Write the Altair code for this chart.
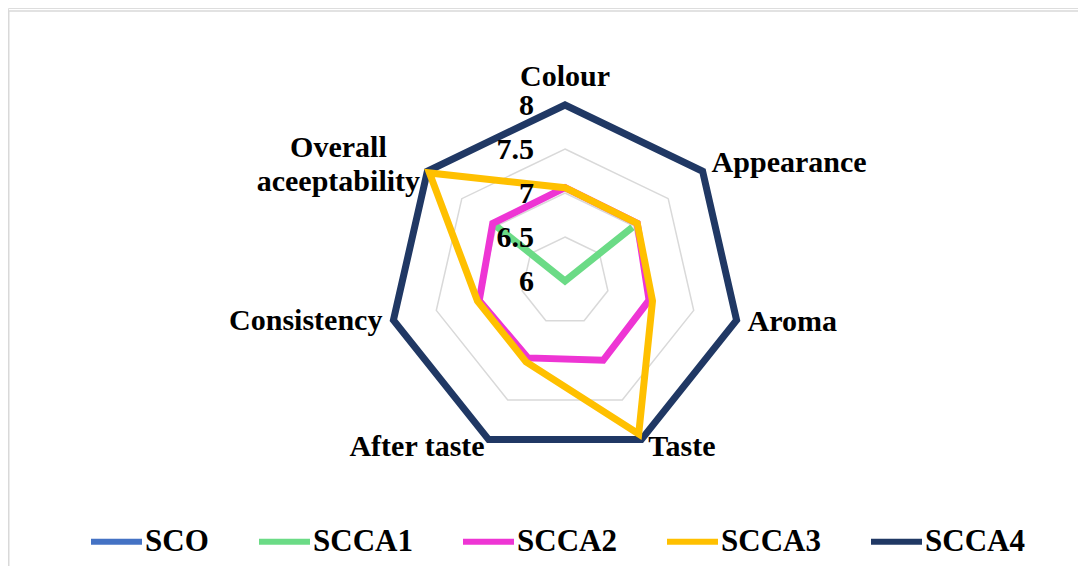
import altair as alt
import pandas as pd

# ---- data ----
categories = ["Colour", "Appearance", "Aroma", "Taste", "After taste",
              "Consistency", "Overall aceeptability"]
series_names = ["SCO", "SCCA1", "SCCA2", "SCCA3", "SCCA4"]
sco = [6, 6, 6, 6, 6, 6, 6]
scca1 = [6, 6.98, 6, 6, 6, 6, 7.02]
scca2 = [7.06, 7.05, 6.98, 7.0, 6.97, 7.0, 7.05]
scca3 = [7.06, 7.05, 7.02, 7.93, 7.02, 7.02, 7.97]
scca4 = [8, 8, 8, 8, 8, 8, 8]
ticks = [6, 6.5, 7, 7.5, 8]
grid_levels = [6.5, 7, 7.5, 8]
colors = ["#4472C4", "#6BDB86", "#EE35D4", "#FFC000", "#203864"]

values = {"SCO": sco, "SCCA1": scca1, "SCCA2": scca2, "SCCA3": scca3, "SCCA4": scca4}
N = len(categories)

# ---- tables ----
rows = []
for s in series_names:
    vals = values[s]
    for k in range(N + 2):  # close the polygon and overlap the first edge
        rows.append({"series": s, "i": k, "value": vals[k % N]})
series_df = pd.DataFrame(rows)

grid_rows = []
for g in grid_levels:
    for k in range(N + 2):
        grid_rows.append({"level": g, "i": k, "value": g})
grid_df = pd.DataFrame(grid_rows)

label_df = pd.DataFrame({"category": categories, "i": list(range(N))})
tick_df = pd.DataFrame({"tick": ticks})

# ---- layout ----
W, H = 1070, 558
R_PX = 176.0
CX, CY = 557.0, 273.0
x_dom = [-CX / R_PX, (W - CX) / R_PX]
y_dom = [-(H - CY) / R_PX, CY / R_PX]
xs = alt.Scale(domain=x_dom, nice=False, zero=False)
ys = alt.Scale(domain=y_dom, nice=False, zero=False)
FONT = "Liberation Serif"


def polar_xy(chart):
    return chart.transform_calculate(
        theta="2*PI*datum.i/%d" % N,
        r="(datum.value - 6)/2",
    ).transform_calculate(
        x="datum.r*sin(datum.theta)",
        y="datum.r*cos(datum.theta)",
    )


grid = polar_xy(alt.Chart(grid_df)).mark_line(
    color="#d9d9d9", strokeWidth=1.5
).encode(
    x=alt.X("x:Q", scale=xs, axis=None),
    y=alt.Y("y:Q", scale=ys, axis=None),
    detail="level:N",
    order="i:Q",
)

color_enc = alt.Color(
    "series:N",
    scale=alt.Scale(domain=series_names, range=colors),
    legend=alt.Legend(
        orient="none", legendX=80, legendY=505, direction="horizontal",
        title=None, symbolType="stroke", symbolSize=2600, symbolStrokeWidth=6,
        labelFont=FONT, labelFontWeight="bold", labelFontSize=31,
        labelColor="black", columnPadding=38, labelOffset=0, padding=0,
        symbolOpacity=1,
    ),
)

lines_base = polar_xy(alt.Chart(series_df)).transform_filter(
    "datum.series != 'SCCA3'"
).mark_line(strokeWidth=7, strokeJoin="miter").encode(
    x=alt.X("x:Q", scale=xs, axis=None),
    y=alt.Y("y:Q", scale=ys, axis=None),
    color=color_enc,
    order="i:Q",
)

lines_top = polar_xy(alt.Chart(series_df)).transform_filter(
    "datum.series == 'SCCA3'"
).mark_line(strokeWidth=7, strokeJoin="miter").encode(
    x=alt.X("x:Q", scale=xs, axis=None),
    y=alt.Y("y:Q", scale=ys, axis=None),
    color=color_enc,
    order="i:Q",
)

# category labels: pixel offsets from each outer vertex
label_calc = dict(
    theta="2*PI*datum.i/%d" % N,
    ox="[0, 9, 11, 7, -4, -11, -89][datum.i]",
    oy="[-28, -8, 2, 7, 7, 1, -23][datum.i]",
)


def label_layer(filt, align, **kw):
    return alt.Chart(label_df).transform_filter(filt).transform_calculate(
        **label_calc
    ).transform_calculate(
        lx="sin(datum.theta) + datum.ox/%f" % R_PX,
        ly="cos(datum.theta) - datum.oy/%f" % R_PX,
    ).mark_text(
        font=FONT, fontWeight="bold", fontSize=30, color="black",
        align=align, baseline="middle", **kw
    ).encode(
        x=alt.X("lx:Q", scale=xs, axis=None),
        y=alt.Y("ly:Q", scale=ys, axis=None),
        text="category:N",
    )


lab_center = label_layer("datum.i == 0 || datum.i == 6", "center",
                         lineBreak=" ", lineHeight=34)
lab_left = label_layer("datum.i >= 1 && datum.i <= 3", "left")
lab_right = label_layer("datum.i == 4 || datum.i == 5", "right")

tick_labels = alt.Chart(tick_df).transform_calculate(
    tx="-31/%f" % R_PX,
    ty="(datum.tick - 6)/2",
).mark_text(
    font=FONT, fontWeight="bold", fontSize=30, color="black",
    align="right", baseline="middle", dy=1,
).encode(
    x=alt.X("tx:Q", scale=xs, axis=None),
    y=alt.Y("ty:Q", scale=ys, axis=None),
    text=alt.Text("tick:Q", format="~g"),
)

border_df = pd.DataFrame({"a": [0]})
border_top = alt.Chart(border_df).mark_rule(color="#d9d9d9", strokeWidth=1.5).encode(
    x=alt.value(0), x2=alt.value(W), y=alt.value(3)
)
border_left = alt.Chart(border_df).mark_rule(color="#d9d9d9", strokeWidth=1.5).encode(
    x=alt.value(0.75), y=alt.value(3), y2=alt.value(H)
)

chart = alt.layer(
    border_top, border_left, grid, lines_base, lines_top,
    lab_center, lab_left, lab_right, tick_labels,
).properties(
    width=W, height=H,
    autosize=alt.AutoSizeParams(type="none"),
    padding=0,
).configure_view(stroke=None).configure(background="white")

chart.save("out.html", embed_options={"renderer": "svg", "actions": False})
